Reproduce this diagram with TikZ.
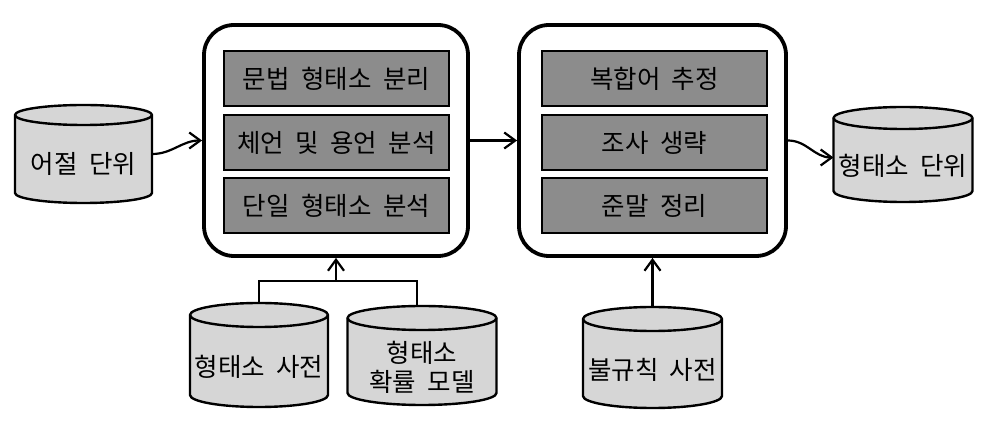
\documentclass[tikz,border=0pt]{standalone}
\usepackage{fontspec}
\newfontfamily\kr{Noto Sans CJK KR}[WordSpace=2]
\usetikzlibrary{arrows.meta}
\definecolor{procgray}{HTML}{8C8C8C}
\definecolor{cylgray}{HTML}{D6D6D6}
\newcommand\dbcyl[7]{%
  \filldraw[cylstyle] (#2-#5,#3+#6) -- (#2-#5,#4-#6)
     arc[start angle=180,end angle=360,x radius=#5pt,y radius=#6pt]
     -- (#2+#5,#3+#6)
     arc[start angle=0,end angle=180,x radius=#5pt,y radius=#6pt] -- cycle;
  \draw[cylstyle] (#2-#5,#3+#6)
     arc[start angle=180,end angle=360,x radius=#5pt,y radius=#6pt];
  \node[inner sep=0pt,outer sep=0pt,minimum width={2*#5pt},minimum height={(#4-#3)*1pt}] (#1) at (#2,{(#3+#4)/2}) {};
  \node[txt,align=center] (#1-t) at (#2,{(#3+2*#6+#4)/2}) {#7};
}
\begin{document}
\begin{tikzpicture}[x=1pt,y=-1pt,
  txt/.style={font=\kr\fontsize{25.5}{29}\selectfont,inner sep=0pt},
  big/.style={draw=black,line width=3.8pt,rounded corners=30pt,fill=white,inner sep=0pt},
  proc/.style={draw=black,line width=2.4pt,fill=procgray,txt,minimum width=225pt,minimum height=55pt},
  cylstyle/.style={draw=black,line width=2.4pt,fill=cylgray},
  conn/.style={line width=2.2pt,-{Straight Barb[length=11pt,width=16pt,line width=2.2pt]}},
  wire/.style={line width=2.2pt}]
\useasboundingbox (0,0) rectangle (986,435);
% process boxes
\node[big,minimum width=264pt,minimum height=231pt] (L) at (336,140.5) {};
\node[big,minimum width=267pt,minimum height=231pt] (R) at (652.5,140.5) {};
\node[proc] (l1) at (336.5,78.5) {문법 형태소 분리};
\node[proc] (l2) at (336.5,142.5) {체언 및 용언 분석};
\node[proc] (l3) at (336.5,205.5) {단일 형태소 분석};
\node[proc] (r1) at (654.5,78.5) {복합어 추정};
\node[proc] (r2) at (654.5,142.5) {조사 생략};
\node[proc] (r3) at (654.5,205.5) {준말 정리};
% databases
\dbcyl{cA}{83.5}{105}{203}{68.5}{10}{어절 단위}
\dbcyl{cB}{903}{107}{202}{69.5}{11}{형태소 단위}
\dbcyl{cC}{259}{303}{407}{69}{12}{형태소 사전}
\dbcyl{cD}{422}{306}{405}{74.5}{12}{형태소\\[0pt]확률 모델}
\dbcyl{cE}{652.5}{307}{408}{69.5}{12}{불규칙 사전}
% connectors
\draw[conn] (cA.east) to[out=0,in=180] (L.west);
\draw[conn] (L.east) -- (R.west);
\draw[conn] (R.east) to[out=0,in=180] ([yshift=-3pt]cB.west);
\coordinate (j) at (336,281);
\draw[wire] (cC.north) |- (j) -| ([xshift=-5pt]cD.north);
\draw[conn] (j) -- (L.south);
\draw[conn] (cE.north) -- (R.south -| cE.north);
\end{tikzpicture}
\end{document}
